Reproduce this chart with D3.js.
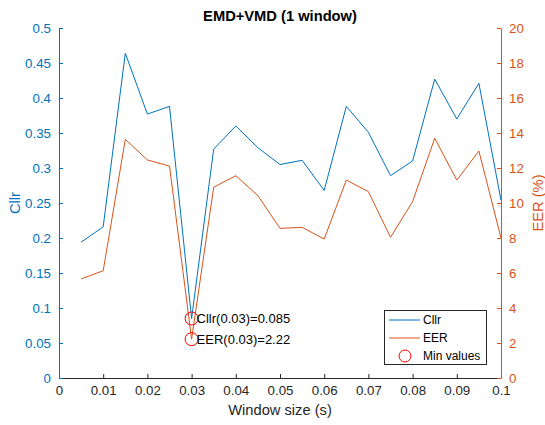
<!DOCTYPE html>
<html>
<head>
<meta charset="utf-8">
<script src="https://cdn.jsdelivr.net/npm/d3@7"></script>
<style>
  html, body { margin: 0; padding: 0; background: #fff; }
  svg { display: block; font-family: Arial, "Liberation Sans", Helvetica, sans-serif; }
</style>
</head>
<body>
<svg id="chart" width="545" height="425"></svg>
<script>
const windowSizes = [0.005, 0.01, 0.015, 0.02, 0.025, 0.03, 0.035, 0.04, 0.045, 0.05,
                     0.055, 0.06, 0.065, 0.07, 0.075, 0.08, 0.085, 0.09, 0.095, 0.1];
const cllrValues = [0.194, 0.216, 0.464, 0.377, 0.388, 0.085, 0.327, 0.360, 0.329, 0.305,
                    0.311, 0.268, 0.388, 0.351, 0.289, 0.310, 0.427, 0.370, 0.421, 0.254];
const eerValues = [5.66, 6.13, 13.64, 12.46, 12.11, 2.22, 10.90, 11.56, 10.42, 8.55,
                   8.61, 7.94, 11.31, 10.65, 8.04, 10.08, 13.70, 11.31, 12.97, 8.00];
const xTicks = [0, 0.01, 0.02, 0.03, 0.04, 0.05, 0.06, 0.07, 0.08, 0.09, 0.1];
const cllrTicks = [0, 0.05, 0.1, 0.15, 0.2, 0.25, 0.3, 0.35, 0.4, 0.45, 0.5];
const eerTicks = [0, 2, 4, 6, 8, 10, 12, 14, 16, 18, 20];
const seriesNames = ["Cllr", "EER", "Min values"];
const minIndex = 5;

const blue = "#0072BD", orange = "#D95319", axisGray = "#262626";
const svg = d3.select("#chart");
const L = 59, R = 501, T = 28, B = 378;

const x = d3.scaleLinear().domain([0, 0.1]).range([L, R]);
const yL = d3.scaleLinear().domain([0, 0.5]).range([B, T]);
const yR = d3.scaleLinear().domain([0, 20]).range([B, T]);

const fmt = d => String(+d.toFixed(4));

// bottom axis
const gx = svg.append("g").attr("transform", `translate(0,${B})`)
  .call(d3.axisBottom(x).tickValues(xTicks).tickFormat(fmt).tickSizeInner(-4).tickSizeOuter(0).tickPadding(8));
gx.select(".domain").attr("stroke", axisGray);
gx.selectAll(".tick line").attr("stroke", axisGray);
gx.selectAll("text").attr("fill", axisGray).attr("font-size", "13.3px").attr("font-family", "Arial, 'Liberation Sans', sans-serif");

// left axis
const gl = svg.append("g").attr("transform", `translate(${L},0)`)
  .call(d3.axisLeft(yL).tickValues(cllrTicks).tickFormat(fmt).tickSizeInner(-4).tickSizeOuter(0).tickPadding(8));
gl.select(".domain").attr("stroke", blue);
gl.selectAll(".tick line").attr("stroke", blue);
gl.selectAll("text").attr("fill", blue).attr("font-size", "13.3px").attr("font-family", "Arial, 'Liberation Sans', sans-serif");

// right axis
const gr = svg.append("g").attr("transform", `translate(${R},0)`)
  .call(d3.axisRight(yR).tickValues(eerTicks).tickFormat(fmt).tickSizeInner(-4).tickSizeOuter(0).tickPadding(8));
gr.select(".domain").attr("stroke", orange);
gr.selectAll(".tick line").attr("stroke", orange);
gr.selectAll("text").attr("fill", orange).attr("font-size", "13.3px").attr("font-family", "Arial, 'Liberation Sans', sans-serif");

// lines
const lineC = d3.line().x((d, i) => x(windowSizes[i])).y(d => yL(d));
const lineE = d3.line().x((d, i) => x(windowSizes[i])).y(d => yR(d));
svg.append("path").datum(cllrValues).attr("d", lineC).attr("fill", "none").attr("stroke", blue).attr("stroke-width", 1);
svg.append("path").datum(eerValues).attr("d", lineE).attr("fill", "none").attr("stroke", orange).attr("stroke-width", 1);

// min markers
const mx = x(windowSizes[minIndex]);
const mins = [
  {y: yL(cllrValues[minIndex]), label: `Cllr(${windowSizes[minIndex]})=${cllrValues[minIndex]}`},
  {y: yR(eerValues[minIndex]), label: `EER(${windowSizes[minIndex]})=${eerValues[minIndex]}`}
];
mins.forEach(m => {
  svg.append("circle").attr("cx", mx).attr("cy", m.y).attr("r", 6.5)
    .attr("fill", "none").attr("stroke", "#FF0000").attr("stroke-width", 1);
  svg.append("text").attr("x", mx + 5).attr("y", m.y).attr("dy", "0.35em")
    .attr("font-size", "13px").attr("fill", "#000").text(m.label);
});

// title and labels
svg.append("text").attr("x", (L + R) / 2).attr("y", 21).attr("text-anchor", "middle")
  .attr("font-weight", "bold").attr("font-size", "14.7px").attr("fill", "#000").text("EMD+VMD (1 window)");
svg.append("text").attr("x", (L + R) / 2).attr("y", 415).attr("text-anchor", "middle")
  .attr("font-size", "14.7px").attr("fill", axisGray).text("Window size (s)");
svg.append("text").attr("transform", `translate(20,${(T + B) / 2}) rotate(-90)`).attr("text-anchor", "middle")
  .attr("font-size", "14.7px").attr("fill", blue).text("Cllr");
svg.append("text").attr("transform", `translate(543,${(T + B) / 2}) rotate(-90)`).attr("text-anchor", "middle")
  .attr("font-size", "14.7px").attr("fill", orange).text("EER (%)");

// legend
const lg = svg.append("g");
lg.append("rect").attr("x", 384.5).attr("y", 310.5).attr("width", 102).attr("height", 54)
  .attr("fill", "#fff").attr("stroke", axisGray).attr("stroke-width", 1);
const items = [
  {name: seriesNames[0], type: "line", color: blue, y: 320},
  {name: seriesNames[1], type: "line", color: orange, y: 338},
  {name: seriesNames[2], type: "circle", color: "#FF0000", y: 356}
];
items.forEach(it => {
  if (it.type === "line") {
    lg.append("line").attr("x1", 389).attr("x2", 420).attr("y1", it.y).attr("y2", it.y)
      .attr("stroke", it.color).attr("stroke-width", 1);
  } else {
    lg.append("circle").attr("cx", 405).attr("cy", it.y).attr("r", 6)
      .attr("fill", "none").attr("stroke", it.color).attr("stroke-width", 1);
  }
  lg.append("text").attr("x", 423).attr("y", it.y).attr("dy", "0.35em")
    .attr("font-size", "12px").attr("fill", "#000").text(it.name);
});
</script>
</body>
</html>
